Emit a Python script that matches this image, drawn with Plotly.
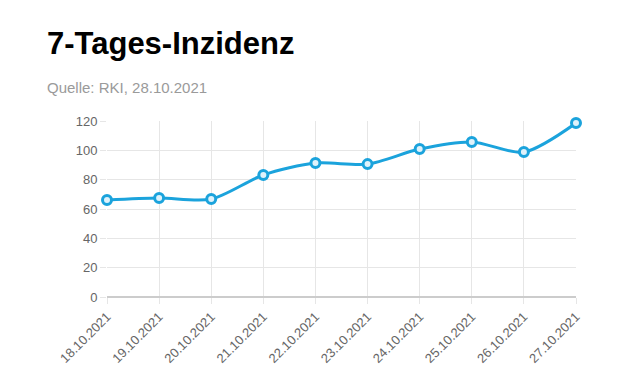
import plotly.graph_objects as go

dates = ["18.10.2021", "19.10.2021", "20.10.2021", "21.10.2021", "22.10.2021",
         "23.10.2021", "24.10.2021", "25.10.2021", "26.10.2021", "27.10.2021"]
incidence = [66.1, 67.5, 66.8, 83.2, 91.3, 90.6, 100.9, 105.7, 98.8, 118.6]
y_ticks = [0, 20, 40, 60, 80, 100, 120]

line_color = "#1ba3dc"

fig = go.Figure()
fig.add_trace(go.Scatter(
    x=dates, y=incidence, mode="lines+markers",
    line=dict(color=line_color, width=3, shape="spline", smoothing=0.8),
    marker=dict(size=9, color="#dff2fb", line=dict(color=line_color, width=3)),
    cliponaxis=False, hoverinfo="x+y",
))

fig.update_layout(
    width=640, height=388,
    margin=dict(l=99, r=72, t=113, b=99),
    paper_bgcolor="white", plot_bgcolor="white",
    showlegend=False,
    font=dict(family="Liberation Sans, Arial, sans-serif", color="#666666", size=12),
    xaxis=dict(
        type="category", range=[0, len(dates) - 1],
        showgrid=True, gridcolor="#e6e6e6", gridwidth=1,
        ticks="outside", ticklen=6, tickcolor="#e6e6e6",
        tickangle=-45, tickfont=dict(size=13, color="#666666"),
        showline=False, zeroline=False,
    ),
    yaxis=dict(
        range=[0, 120], tickvals=y_ticks,
        showgrid=True, gridcolor="#e6e6e6", gridwidth=1,
        ticks="outside", ticklen=6, tickcolor="#e6e6e6",
        tickfont=dict(size=13, color="#666666"),
        zeroline=True, zerolinecolor="#cccccc", zerolinewidth=2,
        showline=False,
    ),
    annotations=[
        dict(text="<b>7-Tages-Inzidenz</b>", xref="paper", yref="paper",
             x=0, y=1.0, xanchor="left", yanchor="middle",
             xshift=-62, yshift=78, showarrow=False,
             font=dict(family="Liberation Sans, Arial, sans-serif", size=31, color="#000000")),
        dict(text="Quelle: RKI, 28.10.2021", xref="paper", yref="paper",
             x=0, y=1.0, xanchor="left", yanchor="middle",
             xshift=-62, yshift=34, showarrow=False,
             font=dict(family="Liberation Sans, Arial, sans-serif", size=15, color="#9a9a9a")),
    ],
)

fig.write_html("out.html")
